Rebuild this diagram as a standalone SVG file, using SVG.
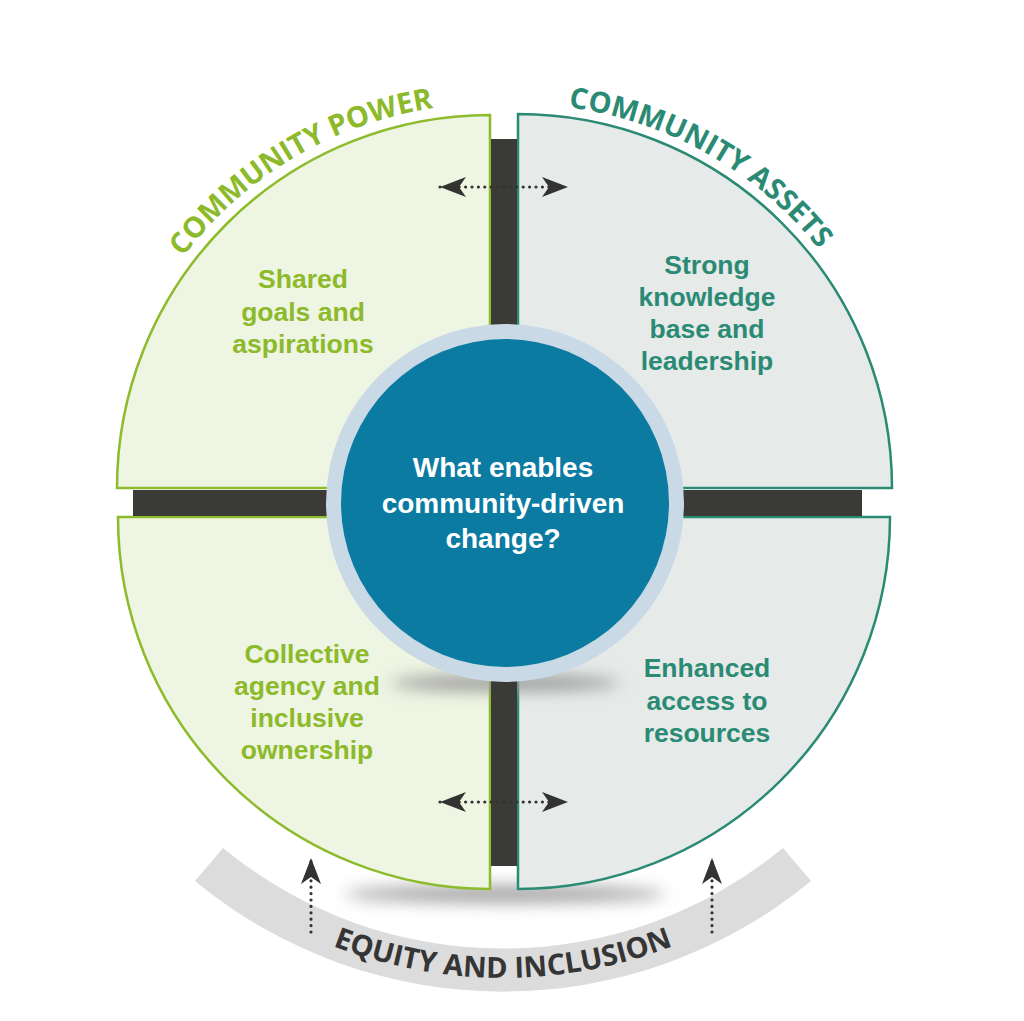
<svg xmlns="http://www.w3.org/2000/svg" width="1024" height="1021" viewBox="0 0 1024 1021">
  <style>
    .lbl { font-family: "Liberation Sans", Arial, sans-serif; font-weight: 700; font-size: 26.5px; text-anchor: middle; }
    .green { fill: #8cba2b; }
    .teal { fill: #2b8a74; }
    .title { font-family: "Open Sans", "Liberation Sans", sans-serif; font-weight: 700; font-size: 29px; }
    .qg { fill: #eff5e3; stroke: #8cbb2b; stroke-width: 2.5; }
    .qt { fill: #e6ebea; stroke: #2b8a74; stroke-width: 2.5; }
    .bar { fill: #3a3a36; }
    .dots { stroke: #333331; stroke-width: 3.2; stroke-linecap: round; stroke-dasharray: 0 6.4; fill: none; }
    .center { font-family: "Liberation Sans", Arial, sans-serif; font-weight: 700; font-size: 28px; fill: #ffffff; text-anchor: middle; }
  </style>
  <defs>
    <marker id="head" viewBox="0 0 26 20" refX="26" refY="10" markerWidth="26" markerHeight="20" markerUnits="userSpaceOnUse" orient="auto-start-reverse">
      <path d="M0,0 L26,10 L0,20 L7,10 Z" fill="#333331"/>
    </marker>
    <filter id="blur" x="-30%" y="-200%" width="160%" height="500%">
      <feGaussianBlur stdDeviation="8"/>
    </filter>
    <path id="arcPower" d="M106,488 A384,384 0 0 1 490,104"/>
    <path id="arcAssets" d="M518,104 A384,384 0 0 1 902,488"/>
    <path id="arcEquity" d="M33,508 A470,470 0 0 0 973,508"/>
  </defs>

  <rect x="0" y="0" width="1024" height="1021" fill="#ffffff"/>

  <!-- equity band -->
  <g id="equity-band">
    <path d="M223,848 A440,440 0 0 0 783,848 L811,881 A484,484 0 0 1 195,881 Z" fill="#dcdcdc"/>
    <text class="title" fill="#353535" font-size="31"><textPath href="#arcEquity" startOffset="50%" text-anchor="middle">EQUITY AND INCLUSION</textPath></text>
  </g>

  <!-- shadow under wheel -->
  <ellipse cx="505" cy="894" rx="160" ry="9" fill="#a5a5a5" filter="url(#blur)"/>

  <!-- quadrants -->
  <g id="community-power">
    <path class="qg" d="M490,488 L490,115 A373,373 0 0 0 117,488 Z"/>
    <text class="title green"><textPath href="#arcPower" startOffset="397" text-anchor="middle">COMMUNITY POWER</textPath></text>
  </g>
  <g id="community-assets">
    <path class="qt" d="M518,488 L518,114 A374,374 0 0 1 892,488 Z"/>
    <text class="title teal"><textPath href="#arcAssets" startOffset="198" text-anchor="middle">COMMUNITY ASSETS</textPath></text>
  </g>
  <g id="collective-agency">
    <path class="qg" d="M490,517 L118,517 A372,372 0 0 0 490,889 Z"/>
  </g>
  <g id="enhanced-access">
    <path class="qt" d="M518,517 L890,517 A372,372 0 0 1 518,889 Z"/>
  </g>

  <!-- shadow under center circle -->
  <ellipse cx="505" cy="683" rx="115" ry="8" fill="#9a9a9a" filter="url(#blur)"/>

  <!-- cross bars -->
  <g id="bars">
    <rect class="bar" x="491" y="139" width="26" height="230"/>
    <rect class="bar" x="491" y="640" width="26" height="226"/>
    <rect class="bar" x="133" y="490" width="230" height="26"/>
    <rect class="bar" x="650" y="490" width="212" height="26"/>
  </g>

  <!-- quadrant labels -->
  <g id="label-shared" class="lbl green">
    <text x="303" y="288">Shared</text>
    <text x="303" y="321">goals and</text>
    <text x="303" y="353">aspirations</text>
  </g>
  <g id="label-strong" class="lbl teal">
    <text x="707" y="274">Strong</text>
    <text x="707" y="306">knowledge</text>
    <text x="707" y="338">base and</text>
    <text x="707" y="370">leadership</text>
  </g>
  <g id="label-collective" class="lbl green">
    <text x="307" y="663">Collective</text>
    <text x="307" y="695">agency and</text>
    <text x="307" y="727">inclusive</text>
    <text x="307" y="759">ownership</text>
  </g>
  <g id="label-enhanced" class="lbl teal">
    <text x="707" y="677">Enhanced</text>
    <text x="707" y="710">access to</text>
    <text x="707" y="742">resources</text>
  </g>

  <!-- center -->
  <g id="center">
    <circle cx="505" cy="503" r="179" fill="#c9d9e6"/>
    <circle cx="505" cy="503" r="164" fill="#0b7ba2"/>
    <text class="center" x="503" y="477">What enables</text>
    <text class="center" x="503" y="513">community-driven</text>
    <text class="center" x="503" y="548">change?</text>
  </g>

  <!-- connectors -->
  <g id="connectors">
    <path class="dots" d="M440,187 L568,187" marker-start="url(#head)" marker-end="url(#head)"/>
    <path class="dots" d="M440,802 L568,802" marker-start="url(#head)" marker-end="url(#head)"/>
    <path class="dots" d="M311,932 L311,858" marker-end="url(#head)"/>
    <path class="dots" d="M712,932 L712,858" marker-end="url(#head)"/>
  </g>
</svg>
